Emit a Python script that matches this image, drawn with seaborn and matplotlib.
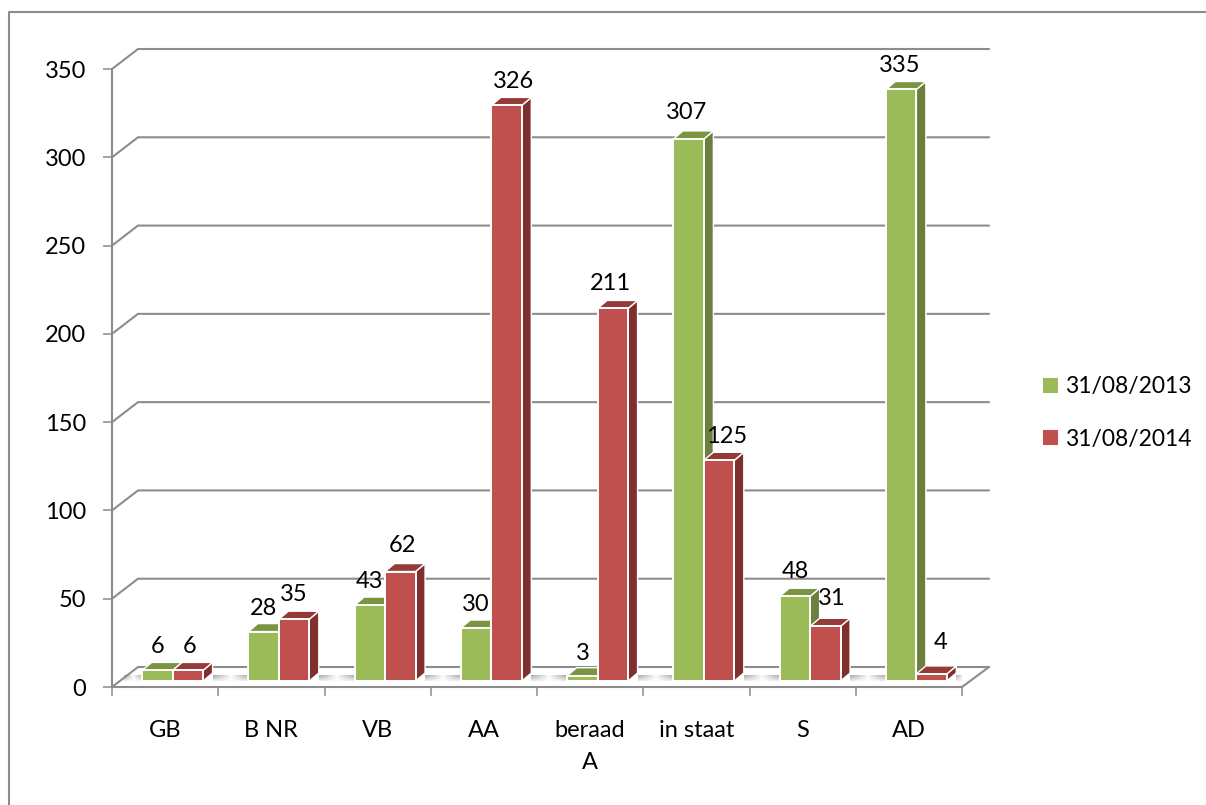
"""
3D-look clustered bars, dossier counts per type on two dates
"""
import numpy as np
import pandas as pd
import matplotlib
matplotlib.use("Agg")
import matplotlib.pyplot as plt
from matplotlib.lines import Line2D
from matplotlib.patches import Polygon
from matplotlib.transforms import Affine2D, IdentityTransform
import seaborn as sns

categories = ["GB", "B NR", "VB", "AA", "beraad\nA", "in staat", "S", "AD"]
values_2013 = [6, 28, 43, 30, 3, 307, 48, 335]
values_2014 = [6, 35, 62, 326, 211, 125, 31, 4]
series_names = ["31/08/2013", "31/08/2014"]
y_ticks = [0, 50, 100, 150, 200, 250, 300, 350]

FRONT = {"31/08/2013": "#9BBB59", "31/08/2014": "#C0504D"}
SIDE = {"31/08/2013": "#6A803C", "31/08/2014": "#7F302E"}
TOP = {"31/08/2013": "#7A9441", "31/08/2014": "#943B39"}
GREY = "#8C8C8C"

W, H = 1206, 805
BAR_SHIFT = (7.5, 6)    # bars stand a bit behind the front edge of the floor
DEPTH = (9.5, 8)        # depth of a bar, pixels
WALL = (26, 20)         # depth of the whole box, pixels
FONT_SIZE = 17

sns.set_theme(style="white")
plt.rcParams["font.family"] = ["Lato", "DejaVu Sans"]

df = pd.DataFrame({
    "category": categories * 2,
    "value": values_2013 + values_2014,
    "date": [series_names[0]] * 8 + [series_names[1]] * 8,
})

fig = plt.figure(figsize=(W / 100, H / 100), dpi=100)
ax = fig.add_axes([112 / W, (H - 687) / H, 850 / W, 618 / H])

sns.barplot(data=df, x="category", y="value", hue="date", palette=FRONT,
            hue_order=series_names, width=0.573, gap=0, saturation=1,
            edgecolor="white", linewidth=1.4, ax=ax, legend=True)
ax.set_xlim(-0.5, 7.5)
ax.set_ylim(0, 350)
ax.set_xlabel("")
ax.set_ylabel("")
sns.despine(ax=ax)

to_px = ax.transData.transform
px = IdentityTransform()

# floor and walls
x0, y0 = to_px((-0.5, 0))
x1, _ = to_px((7.5, 0))
ax.add_patch(Polygon([(x0, y0), (x1, y0), (x1 + WALL[0] + 1, y0 + WALL[1]), (x0 + WALL[0], y0 + WALL[1])],
                     closed=True, facecolor="white", edgecolor="none", transform=px, zorder=0.5))
ax.add_line(Line2D([x1, x1 + WALL[0] + 1], [y0, y0 + WALL[1]], color=GREY, lw=1.5, transform=px, clip_on=False, zorder=1))
for v in y_ticks:
    _, y = to_px((0, v))
    ax.add_line(Line2D([x0, x0 + WALL[0], x1 + WALL[0] + 1], [y, y + WALL[1], y + WALL[1]],
                       color=GREY, lw=1.5, transform=px, clip_on=False, zorder=1))

# the bars get their depth here, drawn in pixels from what seaborn placed
for s, (name, bars) in enumerate(zip(series_names, ax.containers)):
    for bar in bars:
        (bx0, by0), (bx1, by1) = to_px(bar.get_bbox().get_points())
        bx0, bx1 = bx0 + BAR_SHIFT[0], bx1 + BAR_SHIFT[0]
        by0, by1 = by0 + BAR_SHIFT[1], by1 + BAR_SHIFT[1]
        dx, dy = DEPTH
        z = 3 + s
        ax.add_patch(Polygon([(bx1, by0), (bx1 + dx, by0 + dy), (bx1 + dx, by1 + dy), (bx1, by1)], closed=True,
                             facecolor=SIDE[name], edgecolor="white", lw=1.0, transform=px, clip_on=False, zorder=z))
        ax.add_patch(Polygon([(bx0, by1), (bx1, by1), (bx1 + dx, by1 + dy), (bx0 + dx, by1 + dy)], closed=True,
                             facecolor=TOP[name], edgecolor="white", lw=1.0, transform=px, clip_on=False, zorder=z))
        # bar itself goes on top of its own side
        bar.set_transform(ax.transData + Affine2D().translate(*BAR_SHIFT))
        bar.set_clip_on(False)
        bar.set_zorder(z + 0.5)

# grey shading on the floor, in the gaps between the clusters
inv = ax.transData.inverted()
green = [b.get_bbox().get_points() for b in ax.containers[0]]
red = [b.get_bbox().get_points() for b in ax.containers[1]]
rows = np.linspace(0.66, 0.92, 12).reshape(-1, 1)
for i in range(9):
    left = x0 + 12 if i == 0 else to_px(red[i - 1][1])[0] + BAR_SHIFT[0] + DEPTH[0]
    right = x1 + 8 if i == 8 else to_px(green[i][0])[0] + BAR_SHIFT[0]
    (dl, db), (dr, dt) = inv.transform([(left, y0 + 6), (right, y0 + 12)])
    across = np.abs(np.linspace(-1, 1, 40)) ** 0.8
    shade = 1 - (1 - rows) * across
    ax.imshow(shade, cmap="gray", vmin=0, vmax=1, extent=(dl, dr, db, dt), aspect="auto",
              interpolation="bilinear", zorder=0.8)
ax.set_xlim(-0.5, 7.5)
ax.set_ylim(0, 350)

# data labels, a few are nudged the way the original has them
label_dx = [[0, 0, 0, 0, 0, -2, 0, -1], [2, 0, 2, 7, -2, 7, 6, 9]]
label_dy = [[26, 25, 26, 26, 24, 28, 27, 26], [26, 27, 28, 26, 27, 26, 30, 33]]
for s, bars in enumerate(ax.containers):
    for i, bar in enumerate(bars):
        (bx0, _), (bx1, by1) = to_px(bar.get_bbox().get_points())
        ax.text((bx0 + bx1) / 2 + BAR_SHIFT[0] + label_dx[s][i], by1 + BAR_SHIFT[1] + label_dy[s][i] - 2,
                str(int(round(bar.get_height()))), ha="center", va="center", fontsize=FONT_SIZE, color="black",
                transform=px, zorder=9)

# axes look
ax.set_yticks(y_ticks)
ax.set_xticks(np.arange(-0.5, 8), minor=True)
ax.tick_params(axis="y", length=6.5, width=1.1, color=GREY, labelsize=FONT_SIZE, pad=12, left=True)
ax.tick_params(axis="x", which="major", length=0, labelsize=FONT_SIZE, pad=24, colors="black")
ax.tick_params(axis="x", which="minor", length=6.5, width=1.1, color=GREY, bottom=True)
ax.tick_params(axis="y", labelcolor="black")
for t in ax.get_xticklabels():
    t.set_multialignment("center")
    t.set_linespacing(1.65)
for side in ("left", "bottom"):
    ax.spines[side].set_color(GREY)
    ax.spines[side].set_linewidth(1.5)
    ax.spines[side].set_zorder(2)
ax.patch.set_alpha(0)

handles = ax.get_legend().legend_handles
ax.get_legend().remove()
ax.legend(handles, series_names, loc="center left", bbox_to_anchor=(1042 / W, 1 - 413 / H),
          bbox_transform=fig.transFigure, frameon=False, fontsize=16.5, handlelength=0.72, handleheight=0.72,
          handletextpad=0.3, labelspacing=1.36, borderpad=0, borderaxespad=0, labelcolor="black")

# outer frame of the chart area, cut by the picture on the right and bottom
fig.add_artist(Line2D([9, 9, W], [0, H - 12, H - 12], color=GREY, lw=1.5, transform=px))

fig.savefig("out.png", dpi=100, facecolor="white")
plt.close(fig)
